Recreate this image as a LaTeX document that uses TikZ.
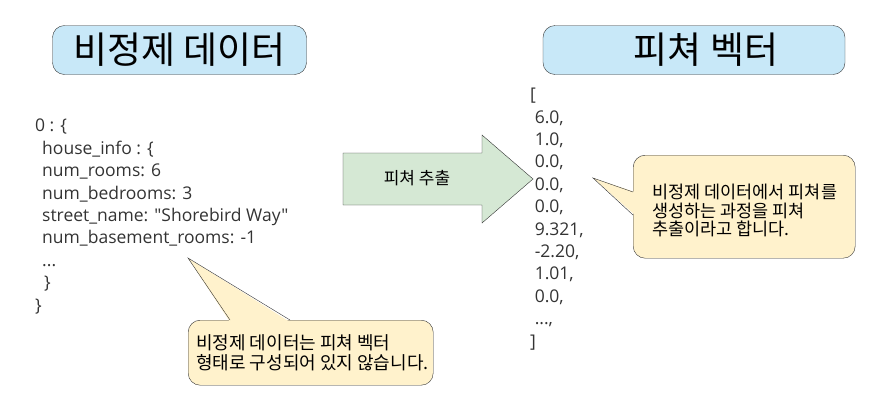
\documentclass[tikz,border=0pt]{standalone}
\usepackage{fontspec}
\setmainfont{Open Sans}[Ligatures=TeXOff]
\newfontfamily\kr{Noto Sans CJK KR}
\usepackage{xcolor}
\usetikzlibrary{positioning}

\definecolor{TitleBlue}{RGB}{200,232,248}
\definecolor{ArrowGreen}{RGB}{213,232,212}
\definecolor{NoteYellow}{RGB}{255,242,204}
\definecolor{LineGray}{RGB}{51,51,51}
\newcommand{\ind}{\hspace*{7pt}}

\begin{document}
\begin{tikzpicture}[
        x=1pt, y=-1pt,
        title/.style={rectangle, rounded corners=12pt, draw=LineGray, fill=TitleBlue,
                      minimum height=49pt, inner sep=0pt, font=\kr\fontsize{37}{42}\selectfont},
        listing/.style={anchor=north west, align=left, inner sep=0pt, text=black!80,
                        font=\fontsize{17.5}{22.4}\selectfont},
        notebox/.style={rectangle, rounded corners=12pt, draw=LineGray, fill=NoteYellow,
                        anchor=north west, inner sep=0pt},
        notetext/.style={anchor=west, align=left, inner sep=0pt,
                         font=\kr\fontsize{17.5}{18.5}\selectfont},
        pointer/.style={draw=LineGray, line join=miter}
    ]
        \useasboundingbox (0,0) rectangle (870,410);

        % titles
        \node[title, minimum width=254pt] (raw) at (179.5,50) {비정제 데이터};
        \node[title, minimum width=302pt] (feat) at (694,50) {\hspace*{24pt}피쳐 벡터};

        % raw data
        \node[listing] (json) at (35,119) {0 : \{\\
            \ind house\_info : \{\\
            \ind num\_rooms: 6\\
            \ind num\_bedrooms: 3\\
            \ind street\_name: "Shorebird Way"\\
            \ind num\_basement\_rooms: -1\\
            \ind ...\\
            \ind\hspace*{2pt}\}\\
            \}};

        % extraction arrow
        \filldraw[draw=LineGray, fill=ArrowGreen, line join=miter]
            (343,153) -- (482,153) -- (482,135) -- (533,179) -- (482,223)
            -- (482,205) -- (343,205) -- cycle;
        \node[font=\kr\fontsize{17}{20}\selectfont] (extract) at (417,178) {피쳐 추출};

        % feature vector
        \node[listing] (vec) at (530,88) {[\\
            \ 6.0,\\
            \ 1.0,\\
            \ 0.0,\\
            \ 0.0,\\
            \ 0.0,\\
            \ 9.321,\\
            \ -2.20,\\
            \ 1.01,\\
            \ 0.0,\\
            \ ...,\\
            ]};

        % note on the right
        \node[notebox, minimum width=222pt, minimum height=103pt] (featnote) at (633,155) {};
        \fill[NoteYellow] (635,192) -- (593,178) -- (635,215) -- cycle;
        \draw[pointer] (633,192) -- (593,178) -- (633,215);
        \node[notetext, right=19pt of featnote.west, yshift=-4pt] (featnotetext)
            {비정제 데이터에서 피쳐를\\생성하는 과정을 피쳐\\추출이라고 합니다.};

        % note at the bottom
        \node[notebox, minimum width=245pt, minimum height=65pt] (rawnote) at (188,320) {};
        \fill[NoteYellow] (230,322) -- (188,258) -- (290,322) -- cycle;
        \draw[pointer] (230,320) -- (188,258) -- (290,320);
        \node[notetext, right=8pt of rawnote.west, font=\kr\fontsize{18}{20}\selectfont] (rawnotetext)
            {비정제 데이터는 피쳐 벡터\\형태로 구성되어 있지 않습니다.};
    \end{tikzpicture}
\end{document}
